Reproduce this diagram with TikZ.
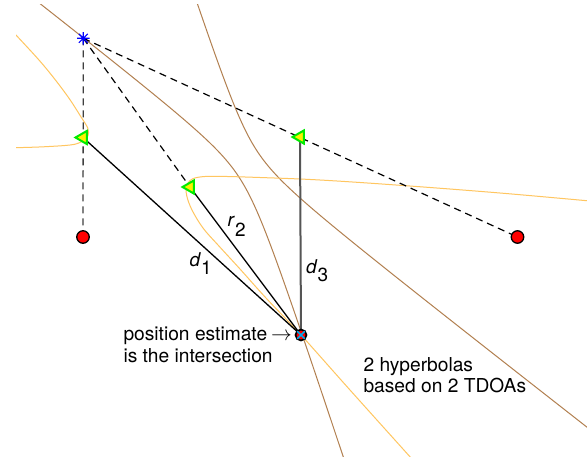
\documentclass[tikz,border=0pt]{standalone}
\usepackage{fontspec}
\setmainfont{TeX Gyre Heros}
\usetikzlibrary{shapes.geometric,shapes.misc}
\definecolor{orangec}{RGB}{255,198,96}
\definecolor{brownc}{RGB}{178,128,80}
\definecolor{greenm}{RGB}{0,235,0}
\definecolor{vgray}{RGB}{85,85,85}
\tikzset{
  hypo/.style={draw=orangec, line width=1pt},
  hypb/.style={draw=brownc, line width=1pt},
  dashline/.style={draw=black, line width=1.2pt, dash pattern=on 7pt off 5pt},
  vdashline/.style={draw=black!75, line width=1.3pt, dash pattern=on 7pt off 5pt},
  solidline/.style={draw=black, line width=1.3pt},
  grayline/.style={draw=vgray, line width=2pt},
  sensor/.style={circle, draw=black, fill=red, line width=1.3pt, minimum size=12.5pt, inner sep=0pt},
  midmark/.style={regular polygon, regular polygon sides=3, shape border rotate=90, draw=greenm, fill=yellow, line width=2pt, minimum size=15pt, inner sep=0pt},
  srcmark/.style={circle, minimum size=12pt, inner sep=0pt},
  estmark/.style={circle, draw=black, fill=red, line width=1.7pt, minimum size=11pt, inner sep=0pt},
  estcross/.style={cross out, draw=cyan, line width=1.6pt, minimum size=6pt, inner sep=0pt},
  txt/.style={font=\fontsize{19.2}{22}\selectfont, inner sep=0pt},
  lbl/.style={font=\fontsize{19}{20}\selectfont, inner sep=0pt}
}
\begin{document}
\begin{tikzpicture}[x=1pt,y=-1pt]
\useasboundingbox (0,0) rectangle (587,459);
\fill[white] (0,0) rectangle (587,459);
% positions
\coordinate (pstar) at (83.3,38.3);
\coordinate (pt1) at (83,137.5);
\coordinate (pt2) at (190,187);
\coordinate (pt3) at (300,137);
\coordinate (pr1) at (83,237);
\coordinate (pr2) at (517.5,237);
\coordinate (pest) at (301,335);
% hyperbolas
\begin{scope}
\clip (16,4) rectangle (588,456);
\draw[hypb] plot[domain=-2.6:2.45, samples=200, variable=\u]
  ({248+25.44*(-0.789*exp(\u)+0.313*exp(-\u))},{164+25.44*(-0.615*exp(\u)+0.950*exp(-\u))});
\draw[hypb] plot[domain=-2.05:2.95, samples=200, variable=\u]
  ({248+25.44*(0.789*exp(\u)-0.313*exp(-\u))},{164+25.44*(0.615*exp(\u)-0.950*exp(-\u))});
\draw[hypo] plot[smooth, tension=0.6] coordinates {
  (10,28.5) (16,35) (43.3,65) (66.7,95) (81.7,118) (87.6,127.5) (88.6,132.5) (86.5,138.5)
  (80,142.5) (70,145) (43.3,146.8) (16,147.7) (10,147.8)};
\draw[hypo] plot[smooth, tension=0.6] coordinates {
  (590,201) (500,193) (403,185.5) (320,180) (260,177.5) (215,176.3) (198,177.3)
  (190,180.5) (186.5,187) (186.8,196) (192,210) (203,228) (218,245) (240,269)
  (266,298) (301,335) (350,390) (412,459)};
\end{scope}
% connectors
\draw[vdashline] (pstar) -- (pr1);
\draw[dashline] (pstar) -- (pt2);
\draw[dashline] (pstar) -- (pr2);
\draw[solidline] (pt1) -- (pest);
\draw[solidline] (pt2) -- (pest);
\draw[grayline] (pt3) -- (pest);
% markers
\node[srcmark] (star) at (pstar) {};
\draw[blue, line width=1.2pt] (star.north) -- (star.south) (star.east) -- (star.west)
  (star.north east) -- (star.south west) (star.north west) -- (star.south east);
\node[midmark] (t1) at (pt1) {};
\node[midmark] (t2) at (pt2) {};
\node[midmark] (t3) at (pt3) {};
\node[sensor] (r1) at (pr1) {};
\node[sensor] (r2) at (pr2) {};
\node[estmark] (est) at (pest) {};
\node[estcross] (estx) at (pest) {};
% labels
\node[lbl, anchor=base west] (ld1) at (189.5,266.5) {\textit{d}\raisebox{-8.4pt}{1}};
\node[lbl, anchor=base west] (lr2) at (227.5,226) {\textit{r}\raisebox{-10pt}{2}};
\node[lbl, anchor=base west] (ld3) at (306,273.3) {\textit{d}\raisebox{-8.4pt}{3}};
\node[txt, anchor=base west] (tpos1) at (123.3,340) {position estimate\hspace{4pt}$\rightarrow$};
\node[txt, anchor=base west] (tpos2) at (123.3,362.7) {is the intersection};
\node[txt, anchor=base west] (thyp1) at (363.3,371) {2 hyperbolas};
\node[txt, anchor=base west] (thyp2) at (363.3,392.5) {based on 2 TDOAs};
\end{tikzpicture}
\end{document}
